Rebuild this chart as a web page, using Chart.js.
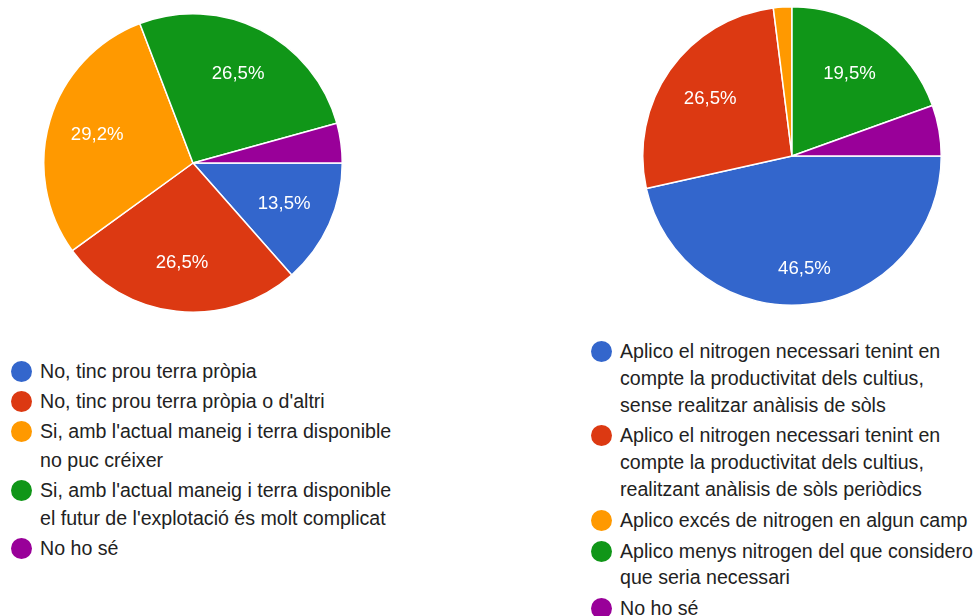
<!DOCTYPE html>
<html>
<head>
<meta charset="utf-8">
<script src="https://cdn.jsdelivr.net/npm/chart.js@4.4.1/dist/chart.umd.min.js"></script>
<style>
  body { margin: 0; background: #fff; width: 977px; height: 616px; position: relative; overflow: hidden;
         font-family: Arial, "Liberation Sans", sans-serif; color: #222; }
  .pie { position: absolute; width: 300px; height: 300px; }
  .legend { position: absolute; list-style: none; margin: 0; padding: 0; font-size: 19.6px; white-space: nowrap; }
  .legend li { position: relative; padding-left: 29px; }
  .legend li::before { content: ""; position: absolute; left: 0; width: 21px; height: 21px; border-radius: 50%;
                       background: var(--c); }
  #legendLeft { left: 11px; top: 357px; width: 400px; }
  #legendLeft li { line-height: 28.5px; margin-bottom: 1.5px; }
  #legendLeft li::before { top: 4px; }
  #legendRight { left: 591px; top: 338px; width: 386px; }
  #legendRight li { line-height: 26.8px; margin-bottom: 4px; }
  #legendRight li::before { top: 3px; }
</style>
</head>
<body>
<div class="pie" style="left:43px; top:13px;"><canvas id="pieLeft"></canvas></div>
<div class="pie" style="left:641.5px; top:5.5px;"><canvas id="pieRight"></canvas></div>
<ul class="legend" id="legendLeft"></ul>
<ul class="legend" id="legendRight"></ul>
<script>
const colors = ['#3366cc', '#dc3912', '#ff9900', '#109618', '#990099'];

const leftLabels = [
  ['No, tinc prou terra pròpia'],
  ["No, tinc prou terra pròpia o d'altri"],
  ["Si, amb l'actual maneig i terra disponible", 'no puc créixer'],
  ["Si, amb l'actual maneig i terra disponible", "el futur de l'explotació és molt complicat"],
  ['No ho sé']
];
const leftValues = [13.5, 26.5, 29.2, 26.5, 4.3];

const rightLabels = [
  ['Aplico el nitrogen necessari tenint en', 'compte la productivitat dels cultius,', 'sense realitzar anàlisis de sòls'],
  ['Aplico el nitrogen necessari tenint en', 'compte la productivitat dels cultius,', 'realitzant anàlisis de sòls periòdics'],
  ['Aplico excés de nitrogen en algun camp'],
  ['Aplico menys nitrogen del que considero', 'que seria necessari'],
  ['No ho sé']
];
const rightValues = [46.5, 26.5, 2.0, 19.5, 5.5];

// percentages inside the slices, only for slices big enough to hold them
const sliceLabels = {
  id: 'sliceLabels',
  afterDatasetsDraw(chart) {
    const ctx = chart.ctx;
    const data = chart.data.datasets[0].data;
    ctx.save();
    ctx.fillStyle = '#fff';
    ctx.font = '18.6px Arial, "Liberation Sans", sans-serif';
    ctx.textAlign = 'center';
    ctx.textBaseline = 'middle';
    chart.getDatasetMeta(0).data.forEach((arc, i) => {
      if (data[i] < 8) return;
      const mid = (arc.startAngle + arc.endAngle) / 2;
      const r = arc.outerRadius * (data[i] > 40 ? 0.76 : 0.67);
      const x = arc.x + Math.cos(mid) * r;
      const y = arc.y + Math.sin(mid) * r;
      ctx.fillText(data[i].toFixed(1).replace('.', ',') + '%', x, y);
    });
    ctx.restore();
  }
};

function makePie(id, labels, values) {
  return new Chart(document.getElementById(id), {
    type: 'pie',
    data: {
      labels: labels.map(l => l.join(' ')),
      datasets: [{
        data: values,
        backgroundColor: colors,
        borderColor: '#fff',
        borderWidth: 1.5
      }]
    },
    options: {
      responsive: true,
      maintainAspectRatio: false,
      animation: false,
      rotation: 90,
      layout: { padding: 0 },
      plugins: { legend: { display: false }, tooltip: { enabled: false } }
    },
    plugins: [sliceLabels]
  });
}

function makeLegend(id, labels) {
  const ul = document.getElementById(id);
  labels.forEach((lines, i) => {
    const li = document.createElement('li');
    li.style.setProperty('--c', colors[i]);
    li.innerHTML = lines.join('<br>');
    ul.appendChild(li);
  });
}

makePie('pieLeft', leftLabels, leftValues);
makePie('pieRight', rightLabels, rightValues);
makeLegend('legendLeft', leftLabels);
makeLegend('legendRight', rightLabels);
</script>
</body>
</html>
